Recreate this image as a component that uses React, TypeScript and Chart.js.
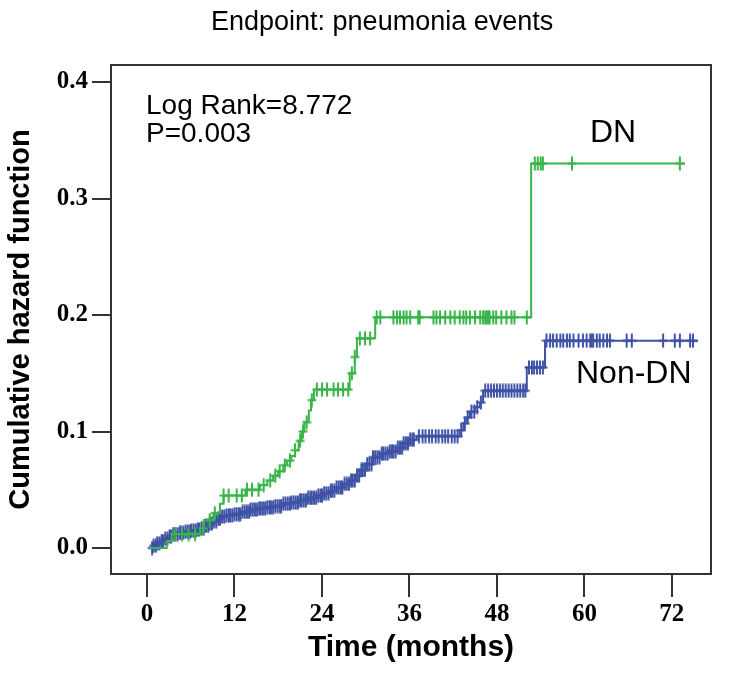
import React, { useEffect, useRef } from 'react';
import { Chart, registerables } from 'chart.js';

Chart.register(...registerables);

// ---------- text ----------
const TITLE = 'Endpoint: pneumonia events';
const X_TITLE = 'Time (months)';
const Y_TITLE = 'Cumulative hazard function';
const STAT_LINES = ['Log Rank=8.772', 'P=0.003'];
const GROUP_LABELS = ['DN', 'Non-DN'];

// ---------- axes ----------
const X_TICKS = [0, 12, 24, 36, 48, 60, 72];
const Y_TICKS = [0.0, 0.1, 0.2, 0.3, 0.4];
const X_RANGE = [-4.94, 77.37];
const Y_RANGE = [-0.0223, 0.4146];

// ---------- DN group (green): event steps ----------
const DN_STEP_T = [0.4, 2.7, 3.4, 7.3, 7.8, 9.1, 10.0, 10.5, 13.5, 15.5, 16.5, 17.3, 18.0, 18.7, 19.2, 19.8, 20.3, 20.8, 21.2, 21.6, 22.2, 22.5, 22.9, 27.8, 28.5, 28.8, 31.3, 52.7, 73.8];
const DN_STEP_V = [0.0, 0.006, 0.012, 0.017, 0.024, 0.030, 0.038, 0.045, 0.050, 0.054, 0.058, 0.062, 0.066, 0.071, 0.075, 0.079, 0.084, 0.092, 0.100, 0.108, 0.118, 0.127, 0.136, 0.150, 0.164, 0.180, 0.198, 0.330, 0.330];
// DN censored times
const DN_CENSOR_T = [3.8, 4.8, 5.7, 6.6, 7.7, 8.6, 9.3, 10.5, 11.2, 12.3, 13.0, 13.7, 14.4, 15.3, 16.0, 16.9, 17.6, 18.2, 18.9, 19.6, 20.3, 21.0, 21.4, 21.9, 22.6, 23.3, 24.0, 24.7, 25.6, 26.2, 26.9, 27.6, 28.1, 28.5, 29.2, 29.9, 30.6, 31.5, 32.0, 33.8, 34.3, 34.7, 35.2, 35.6, 36.1, 37.2, 37.4, 39.3, 39.7, 40.2, 40.9, 41.6, 42.2, 42.9, 43.4, 43.8, 44.3, 45.0, 45.7, 46.1, 46.4, 46.6, 46.8, 47.0, 47.5, 47.9, 48.6, 49.3, 50.0, 50.4, 52.1, 53.2, 53.6, 54.0, 54.3, 58.3, 73.1];

// ---------- Non-DN group (blue): event steps ----------
const NDN_STEP_T = [0.4, 0.9, 1.4, 2.0, 2.5, 3.0, 3.6, 4.4, 5.2, 6.0, 6.8, 7.3, 7.9, 8.5, 9.1, 9.7, 10.3, 10.9, 11.9, 12.9, 14.1, 15.2, 16.4, 17.5, 18.7, 19.8, 21.0, 22.1, 23.3, 24.2, 25.1, 26.0, 26.9, 27.8, 28.6, 29.4, 30.2, 31.0, 32.1, 33.2, 34.3, 35.2, 36.1, 37.0, 42.9, 43.4, 43.9, 44.3, 45.0, 45.7, 46.1, 52.1, 54.6, 75.6];
const NDN_STEP_V = [0.000, 0.002, 0.004, 0.006, 0.008, 0.010, 0.012, 0.013, 0.014, 0.015, 0.016, 0.017, 0.019, 0.021, 0.023, 0.025, 0.027, 0.028, 0.029, 0.031, 0.033, 0.034, 0.035, 0.036, 0.038, 0.039, 0.041, 0.043, 0.045, 0.047, 0.049, 0.052, 0.055, 0.058, 0.062, 0.067, 0.072, 0.078, 0.081, 0.083, 0.086, 0.090, 0.093, 0.096, 0.101, 0.107, 0.112, 0.117, 0.121, 0.125, 0.135, 0.155, 0.178, 0.178];
// Non-DN censored times
const NDN_CENSOR_T = [
  0.7, 0.9, 1.2, 1.4, 1.7, 2.0, 2.2, 2.5, 2.8, 3.1, 3.3, 3.6, 3.9, 4.2, 4.5, 4.7, 5.0, 5.3, 5.6, 5.9,
  6.1, 6.4, 6.7, 7.0, 7.2, 7.5, 7.8, 8.1, 8.4, 8.6, 8.9, 9.2, 9.5, 9.8, 10.0, 10.3, 10.6, 10.9, 11.2,
  11.4, 11.7, 12.0, 12.3, 12.6, 12.8, 13.1, 13.4, 13.7, 14.0, 14.2, 14.5, 14.8, 15.1, 15.4, 15.6, 15.9,
  16.2, 16.5, 16.8, 17.0, 17.3, 17.6, 17.9, 18.2, 18.4, 18.7, 19.0, 19.3, 19.6, 19.8, 20.1, 20.4, 20.7,
  21.0, 21.2, 21.5, 21.8, 22.1, 22.4, 22.6, 22.9, 23.2, 23.5, 23.8, 24.0, 24.3, 24.6, 24.9, 25.2, 25.4,
  25.7, 26.0, 26.3, 26.6, 26.8, 27.1, 27.4, 27.7, 28.0, 28.2, 28.5, 28.8, 29.1, 29.4, 29.6, 29.9, 30.2,
  30.5, 30.8, 31.0, 31.3, 31.6, 31.9, 32.2, 32.4, 32.7, 33.0, 33.3, 33.6, 33.8, 34.1, 34.4, 34.7, 35.0,
  35.2, 35.5, 35.8, 36.1, 36.4, 36.6,
  37.3, 37.8, 38.2, 38.7, 39.1, 39.6, 40.0, 40.5, 40.9, 41.3, 41.8, 42.2, 42.6,
  43.1, 43.6, 44.0, 44.5, 44.9, 45.3, 45.8,
  46.4, 46.8, 47.2, 47.6, 48.0, 48.4, 48.8, 49.2, 49.6, 50.0, 50.4, 50.8, 51.2, 51.6, 51.9,
  52.4, 52.8, 53.1, 53.5, 53.9, 54.3,
  54.8, 55.3, 55.7, 56.2, 56.7, 57.1, 57.6, 58.0, 58.5, 59.2, 59.8, 60.3, 60.8, 61.0, 61.2, 61.7, 62.1,
  62.6, 63.1, 63.5, 65.8, 66.5, 70.8, 72.4, 73.1, 74.5, 74.9
];

const GREEN = '#3AB54A';
const BLUE = '#3F52A6';
const FRAME = '#333333';
const SANS = '"Liberation Sans", Arial, Helvetica, sans-serif';
const SERIF = '"Liberation Serif", "Times New Roman", serif';

function valueAt(ts: number[], vs: number[], t: number): number {
  let v = vs[0];
  for (let i = 0; i < ts.length; i++) if (ts[i] <= t) v = vs[i];
  return v;
}

const stepData = (ts: number[], vs: number[]) => ts.map((t, i) => ({ x: t, y: vs[i] }));
const censorData = (cs: number[], ts: number[], vs: number[]) => cs.map((t) => ({ x: t, y: valueAt(ts, vs, t) }));

// tall, narrow "+" censor mark (as drawn by SPSS)
function makeCross(color: string, w: number, h: number): HTMLCanvasElement {
  const c = document.createElement('canvas');
  c.width = w;
  c.height = h;
  const g = c.getContext('2d')!;
  g.strokeStyle = color;
  g.lineWidth = 2;
  g.beginPath();
  g.moveTo(w / 2, 0.5);
  g.lineTo(w / 2, h - 0.5);
  g.moveTo(0.5, h / 2);
  g.lineTo(w - 0.5, h / 2);
  g.stroke();
  return c;
}

const framePlugin = {
  id: 'frameAndText',
  afterDraw(chart: any) {
    const { ctx, chartArea: a } = chart;
    ctx.save();
    ctx.strokeStyle = FRAME;
    ctx.lineWidth = 2;
    ctx.strokeRect(a.left, a.top, a.right - a.left, a.bottom - a.top);

    ctx.fillStyle = '#000';
    ctx.textBaseline = 'alphabetic';
    ctx.textAlign = 'left';
    // title
    ctx.font = `27px ${SANS}`;
    ctx.fillText(TITLE, 211, 30);
    // statistics
    ctx.font = `28px ${SANS}`;
    ctx.fillText(STAT_LINES[0], a.left + 35, 114);
    ctx.fillText(STAT_LINES[1], a.left + 35, 142);
    // group labels
    ctx.font = `32px ${SANS}`;
    ctx.fillText(GROUP_LABELS[0], 590, 142);
    ctx.fillText(GROUP_LABELS[1], 576, 383);
    ctx.restore();
  },
};

export default function App() {
  const ref = useRef<HTMLCanvasElement | null>(null);

  useEffect(() => {
    if (!ref.current) return;
    const greenCross = makeCross(GREEN, 10, 15);
    const blueCross = makeCross(BLUE, 10, 15);
    const chart = new Chart(ref.current, {
      type: 'scatter',
      data: {
        datasets: [
          {
            label: 'DN',
            data: stepData(DN_STEP_T, DN_STEP_V),
            showLine: true,
            stepped: 'before',
            borderColor: GREEN,
            borderWidth: 2,
            pointRadius: 0,
          } as any,
          {
            label: 'DN censored',
            data: censorData(DN_CENSOR_T, DN_STEP_T, DN_STEP_V),
            showLine: false,
            pointStyle: greenCross,
            pointRadius: 6,
            borderColor: GREEN,
          } as any,
          {
            label: 'Non-DN',
            data: stepData(NDN_STEP_T, NDN_STEP_V),
            showLine: true,
            stepped: 'before',
            borderColor: BLUE,
            borderWidth: 2,
            pointRadius: 0,
          } as any,
          {
            label: 'Non-DN censored',
            data: censorData(NDN_CENSOR_T, NDN_STEP_T, NDN_STEP_V),
            showLine: false,
            pointStyle: blueCross,
            pointRadius: 6,
            borderColor: BLUE,
          } as any,
        ],
      },
      options: {
        animation: false,
        responsive: false,
        devicePixelRatio: 1,
        events: [],
        layout: { padding: { top: 65, right: 21, left: 0, bottom: 0 } },
        plugins: { legend: { display: false }, tooltip: { enabled: false }, title: { display: false } },
        scales: {
          x: {
            type: 'linear',
            position: 'bottom',
            min: X_RANGE[0],
            max: X_RANGE[1],
            afterBuildTicks: (s: any) => { s.ticks = X_TICKS.map((v) => ({ value: v })); },
            afterFit: (s: any) => { s.height = 113; },
            grid: { drawOnChartArea: false, drawTicks: true, tickLength: 23, color: FRAME, lineWidth: 2 },
            border: { display: false },
            ticks: { color: '#000', font: { family: SERIF, weight: 'bold', size: 25 }, padding: 3, maxRotation: 0, autoSkip: false },
            title: { display: true, text: X_TITLE, color: '#000', font: { family: SANS, weight: 'bold', size: 30, lineHeight: 1.2 }, padding: { top: 0, bottom: 21 } },
          },
          y: {
            type: 'linear',
            position: 'left',
            min: Y_RANGE[0],
            max: Y_RANGE[1],
            afterBuildTicks: (s: any) => { s.ticks = Y_TICKS.map((v) => ({ value: v })); },
            afterFit: (s: any) => { s.width = 111; },
            grid: { drawOnChartArea: false, drawTicks: true, tickLength: 19, color: FRAME, lineWidth: 2 },
            border: { display: false },
            ticks: { color: '#000', font: { family: SERIF, weight: 'bold', size: 25 }, padding: 4, callback: (v: any) => Number(v).toFixed(1) },
            title: { display: true, text: Y_TITLE, color: '#000', font: { family: SANS, weight: 'bold', size: 29, lineHeight: 1.2 }, padding: { top: 4, bottom: 0 } },
          },
        },
      } as any,
      plugins: [framePlugin],
    });
    return () => chart.destroy();
  }, []);

  return (
    <div style={{ position: 'absolute', left: 0, top: 0, width: 732, height: 687, background: '#fff' }}>
      <canvas ref={ref} width={732} height={687} />
    </div>
  );
}
